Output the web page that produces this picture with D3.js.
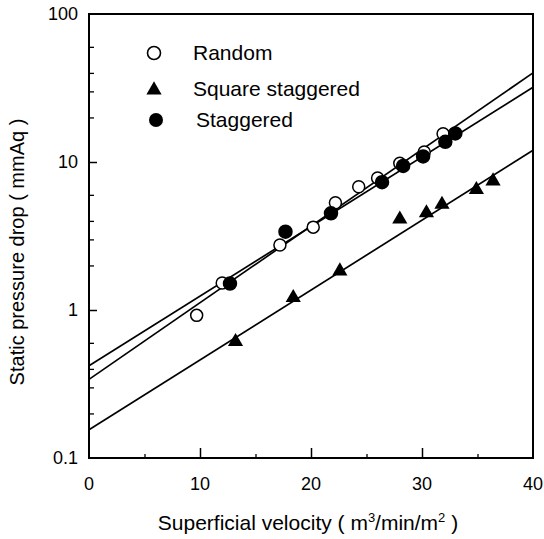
<!DOCTYPE html>
<html>
<head>
<meta charset="utf-8">
<script src="https://cdn.jsdelivr.net/npm/d3@7"></script>
<style>
  html, body { margin: 0; padding: 0; background: #fff; }
  svg { display: block; font-family: "Liberation Sans", Arial, Helvetica, sans-serif; }
</style>
</head>
<body>
<svg id="chart" width="544" height="539"></svg>
<script>
// ---- data ----
const randomX = [9.7, 12.0, 17.2, 20.2, 22.2, 24.3, 26.0, 28.0, 30.2, 31.9];
const randomY = [0.92, 1.52, 2.75, 3.63, 5.3, 6.8, 7.8, 9.8, 11.7, 15.5];

const squareX = [13.2, 18.4, 22.6, 28.0, 30.4, 31.8, 34.9, 36.4];
const squareY = [0.62, 1.23, 1.86, 4.17, 4.6, 5.25, 6.6, 7.55];

const staggeredX = [12.7, 17.7, 21.8, 26.4, 28.3, 30.1, 32.1, 33.0];
const staggeredY = [1.51, 3.38, 4.5, 7.3, 9.4, 10.9, 13.7, 15.6];

// fitted lines (end points at x = 0 and x = 40)
const fitX = [0, 40];
const fitUpper = [0.42, 32];
const fitMiddle = [0.34, 40];
const fitLower = [0.155, 12];

const xTicks = [0, 10, 20, 30, 40];
const xMinorTicks = [5, 15, 25, 35];
const yTicks = [0.1, 1, 10, 100];
const yTickLabels = ["0.1", "1", "10", "100"];
const yMinorTicks = [0.2, 0.3, 0.4, 0.6, 2, 3, 4, 6, 20, 30, 40, 60];

const legendNames = ["Random", "Square staggered", "Staggered"];

// ---- layout ----
const svg = d3.select("#chart");
const pL = 89, pR = 533, pT = 14, pB = 458;

const x = d3.scaleLinear().domain([0, 40]).range([pL, pR]);
const y = d3.scaleLog().domain([0.1, 100]).range([pB, pT]);

// fit lines
const lineGen = d3.line().x(d => x(d[0])).y(d => y(d[1]));
[fitUpper, fitMiddle, fitLower].forEach(f => {
  svg.append("path")
    .attr("d", lineGen(fitX.map((v, i) => [v, f[i]])))
    .attr("fill", "none").attr("stroke", "#000").attr("stroke-width", 1.7);
});

// axes (ticks inward)
const xAxis = d3.axisBottom(x).tickValues(xTicks.slice(1, -1)).tickSize(-10).tickFormat("");
svg.append("g").attr("transform", `translate(0,${pB})`).call(xAxis)
  .call(g => g.select(".domain").remove())
  .call(g => g.selectAll("line").attr("stroke-width", 1.5));
const xAxisMinor = d3.axisBottom(x).tickValues(xMinorTicks).tickSize(-4).tickFormat("");
svg.append("g").attr("transform", `translate(0,${pB})`).call(xAxisMinor)
  .call(g => g.select(".domain").remove())
  .call(g => g.selectAll("line").attr("stroke-width", 1.3));

const yAxis = d3.axisLeft(y).tickValues([1, 10]).tickSize(-8).tickFormat("");
svg.append("g").attr("transform", `translate(${pL},0)`).call(yAxis)
  .call(g => g.select(".domain").remove())
  .call(g => g.selectAll("line").attr("stroke-width", 1.5));
const yAxisMinor = d3.axisLeft(y).tickValues(yMinorTicks).tickSize(-5).tickFormat("");
svg.append("g").attr("transform", `translate(${pL},0)`).call(yAxisMinor)
  .call(g => g.select(".domain").remove())
  .call(g => g.selectAll("line").attr("stroke-width", 1.3));

// frame
svg.append("rect")
  .attr("x", pL).attr("y", pT)
  .attr("width", pR - pL).attr("height", pB - pT)
  .attr("fill", "none").attr("stroke", "#000").attr("stroke-width", 2);

// tick labels
svg.append("g").selectAll("text").data(xTicks).join("text")
  .attr("x", d => x(d)).attr("y", pB + 32)
  .attr("text-anchor", "middle").attr("font-size", 18).text(d => d);
svg.append("g").selectAll("text").data(yTicks).join("text")
  .attr("x", pL - 11).attr("y", d => y(d) + 6)
  .attr("text-anchor", "end").attr("font-size", 18).text((d, i) => yTickLabels[i]);

// axis titles
const xt = svg.append("text").attr("x", 308).attr("y", 530)
  .attr("text-anchor", "middle").attr("font-size", 21);
xt.append("tspan").text("Superficial velocity ( m");
xt.append("tspan").text("3").attr("font-size", 13).attr("dy", -8);
xt.append("tspan").text("/min/m").attr("dy", 8);
xt.append("tspan").text("2").attr("font-size", 13).attr("dy", -8);
xt.append("tspan").text(" )").attr("dy", 8);

svg.append("text")
  .attr("transform", `translate(24,252) rotate(-90)`)
  .attr("text-anchor", "middle").attr("font-size", 20)
  .text("Static pressure drop ( mmAq )");

// markers
const tri = d3.symbol().type(d3.symbolTriangle).size(100);
function drawCircles(xs, ys, filled, r) {
  svg.append("g").selectAll("circle").data(xs.map((v, i) => [v, ys[i]])).join("circle")
    .attr("cx", d => x(d[0])).attr("cy", d => y(d[1])).attr("r", r)
    .attr("fill", filled ? "#000" : "#fff").attr("stroke", "#000").attr("stroke-width", 1.5);
}
drawCircles(randomX, randomY, false, 6);
svg.append("g").selectAll("path").data(squareX.map((v, i) => [v, squareY[i]])).join("path")
  .attr("d", tri).attr("transform", d => `translate(${x(d[0])},${y(d[1]) + 1})`)
  .attr("fill", "#000");
drawCircles(staggeredX, staggeredY, true, 6.5);

// legend
const legY = [53, 89, 120];
const legend = svg.append("g");
legend.append("circle").attr("cx", 154).attr("cy", legY[0]).attr("r", 6.5)
  .attr("fill", "#fff").attr("stroke", "#000").attr("stroke-width", 1.6);
legend.append("path").attr("d", tri).attr("transform", `translate(154,${legY[1] + 1})`).attr("fill", "#000");
legend.append("circle").attr("cx", 156).attr("cy", legY[2]).attr("r", 7).attr("fill", "#000");
legend.selectAll("text").data(legendNames).join("text")
  .attr("x", (d, i) => i === 2 ? 196 : 193).attr("y", (d, i) => legY[i] + 7)
  .attr("font-size", 21).text(d => d);
</script>
</body>
</html>
